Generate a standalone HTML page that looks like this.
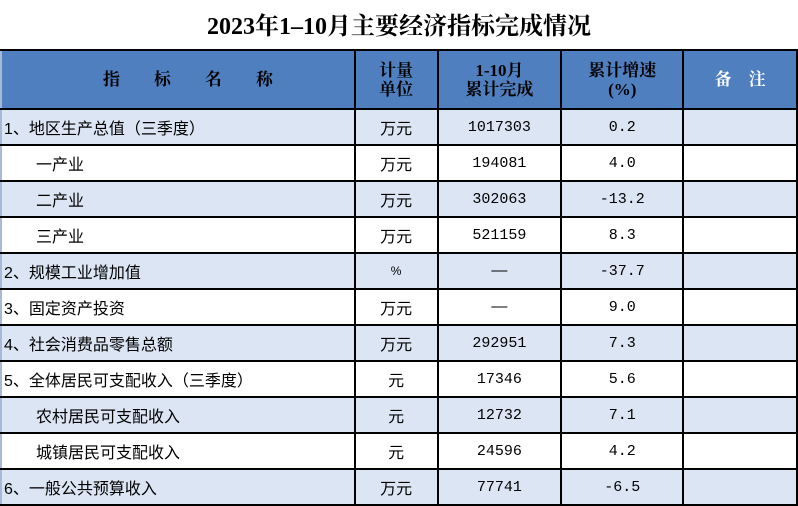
<!DOCTYPE html>
<html><head><meta charset="utf-8"><style>
body{margin:0;width:798px;height:505px;background:#fff;overflow:hidden;position:relative;font-family:"Liberation Serif","Noto Serif CJK SC","Noto Sans CJK SC",serif;}
.t{position:absolute;left:0;width:798px;top:6px;text-align:center;font-size:24px;font-weight:bold;color:#000;}
table{position:absolute;left:0;top:49px;border-collapse:collapse;table-layout:fixed;}
td{border:2px solid #000;height:34px;padding:0;font-size:16px;font-family:"Liberation Sans","Noto Sans CJK SC",sans-serif;text-align:center;color:#000;white-space:nowrap;}
td:first-child{border-left:2px solid #a8b8d8;text-align:left;padding-left:2px}
tr.h td{height:57px;background:#4f7fbf;font-weight:bold;font-family:"Liberation Serif","Noto Serif CJK SC",serif;font-size:17px;line-height:19px;}
tr.s td{background:#dbe5f3;}
td.i{padding-left:34px}
.n{font-family:"Liberation Mono","Noto Sans CJK SC",monospace;font-size:15px}
</style></head><body>
<div class="t">2023年1–10月主要经济指标完成情况</div>
<table>
<colgroup><col style="width:354px"><col style="width:83px"><col style="width:124px"><col style="width:122px"><col style="width:114px"></colgroup>
<tr class="h"><td style="text-align:center;padding-left:20px">指&nbsp;&nbsp;&nbsp;&nbsp;&nbsp;&nbsp;&nbsp;&nbsp;标&nbsp;&nbsp;&nbsp;&nbsp;&nbsp;&nbsp;&nbsp;&nbsp;名&nbsp;&nbsp;&nbsp;&nbsp;&nbsp;&nbsp;&nbsp;&nbsp;称</td><td>计量<br>单位</td><td>1-10月<br>累计完成</td><td>累计增速<br>(%)</td><td style="color:#fff">备&nbsp;&nbsp;&nbsp;&nbsp;注</td></tr>
<tr class="s"><td>1、地区生产总值（三季度）</td><td>万元</td><td class="n">1017303</td><td class="n">0.2</td><td></td></tr>
<tr><td class="i">一产业</td><td>万元</td><td class="n">194081</td><td class="n">4.0</td><td></td></tr>
<tr class="s"><td class="i">二产业</td><td>万元</td><td class="n">302063</td><td class="n">-13.2</td><td></td></tr>
<tr><td class="i">三产业</td><td>万元</td><td class="n">521159</td><td class="n">8.3</td><td></td></tr>
<tr class="s"><td>2、规模工业增加值</td><td style="font-size:12px">%</td><td>—</td><td class="n">-37.7</td><td></td></tr>
<tr><td>3、固定资产投资</td><td>万元</td><td>—</td><td class="n">9.0</td><td></td></tr>
<tr class="s"><td>4、社会消费品零售总额</td><td>万元</td><td class="n">292951</td><td class="n">7.3</td><td></td></tr>
<tr><td>5、全体居民可支配收入（三季度）</td><td>元</td><td class="n">17346</td><td class="n">5.6</td><td></td></tr>
<tr class="s"><td class="i">农村居民可支配收入</td><td>元</td><td class="n">12732</td><td class="n">7.1</td><td></td></tr>
<tr><td class="i">城镇居民可支配收入</td><td>元</td><td class="n">24596</td><td class="n">4.2</td><td></td></tr>
<tr class="s"><td>6、一般公共预算收入</td><td>万元</td><td class="n">77741</td><td class="n">-6.5</td><td></td></tr>
</table>
</body></html>
